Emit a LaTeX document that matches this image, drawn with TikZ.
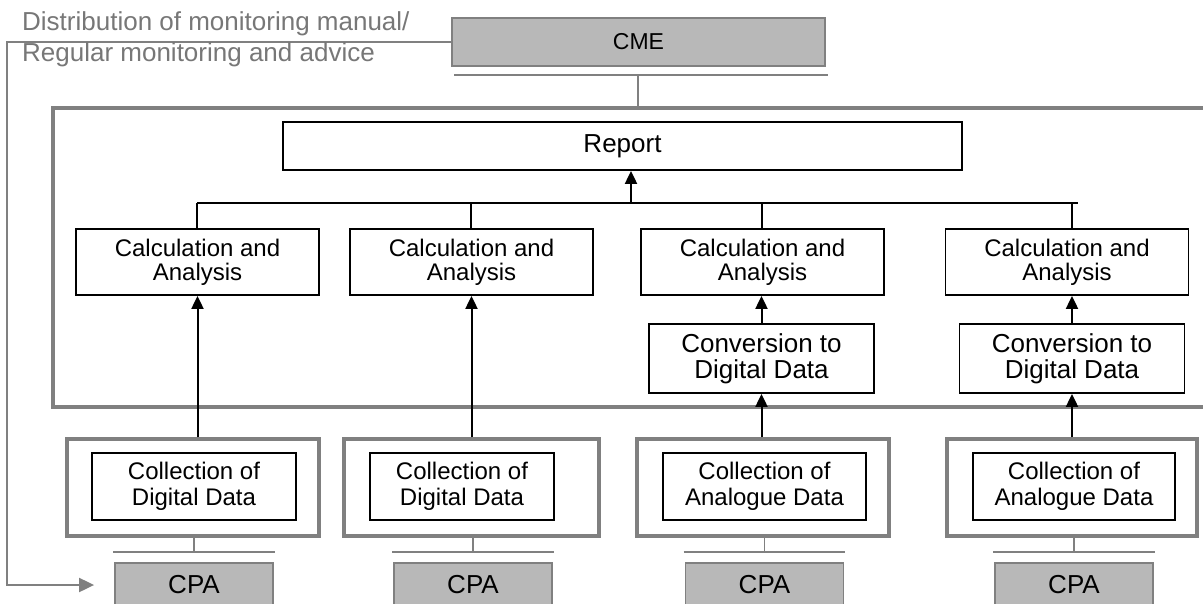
\documentclass[tikz,border=0pt]{standalone}
\usepackage{fontspec}
\setmainfont{Liberation Sans}
\usetikzlibrary{arrows.meta}
\definecolor{linegray}{HTML}{808080}
\definecolor{orgfill}{HTML}{B8B8B8}
\definecolor{labelgray}{HTML}{777777}

\begin{document}
\begin{tikzpicture}[x=1pt, y=-1pt,
  blk/.style={draw=black, line width=1.8pt, fill=white, inner sep=0pt, align=center},
  org/.style={draw=linegray, line width=1.8pt, fill=orgfill, inner sep=0pt},
  frame/.style={draw=linegray, line width=3.5pt, inner sep=0pt},
  bar/.style={draw=linegray, line width=1.4pt},
  up/.style={line width=2pt, -{Triangle[length=13pt, width=12pt]}},
  feed/.style={draw=linegray, line width=2pt, -{Triangle[length=15pt, width=14pt, fill=linegray]}}]
  \useasboundingbox (0,0) rectangle (1203,603);
  \clip (0,0) rectangle (1203,603);

  % CME on top
  \node[org, minimum width=373, minimum height=48, font=\fontsize{23}{23}\selectfont] (cme) at (638.5,42) {CME};
  \draw[bar] (454,75) -- (828,75);
  \draw[bar] (638,75) -- (638,108);

  % big frame, open to the right
  \draw[frame] (1210,108) -- (53,108) -- (53,407) -- (1210,407);

  % Report
  \node[blk, minimum width=679, minimum height=48, font=\fontsize{26}{26}\selectfont] (report) at (622.5,146) {Report};

  % Calculation and Analysis
  \foreach \i/\cx/\bx in {1/197.5/197, 2/471.5/471, 3/762.5/762, 4/1067/1072} {
    \node[blk, minimum width=243, minimum height=66, font=\fontsize{24}{24}\selectfont] (calc\i) at (\cx,262) {Calculation and\\Analysis};
    \coordinate (b\i) at (\bx,203);
    \draw[line width=2pt] (b\i) -- (b\i |- calc\i.north);
  }
  \draw[line width=2pt] (b1) -- (1078,203);
  \coordinate (rb) at (631,203);
  \draw[up] (rb) -- (rb |- report.south);

  % Conversion to Digital Data
  \foreach \i/\cx in {3/761.5, 4/1072} {
    \node[blk, minimum width=225, minimum height=69, font=\fontsize{26}{26}\selectfont] (conv\i) at (\cx,358.5) {Conversion to\\Digital Data};
    \draw[up] (conv\i.north) -- (conv\i.north |- calc\i.south);
  }

  % Collection + CPA
  \foreach \i/\ox/\ow/\ix/\iw/\px/\what in {1/193/252/194/204/194/Digital, 2/471.5/255/462/184/473/Digital, 3/763/252/764.5/203/764.5/Analogue, 4/1072/250/1074/202/1074/Analogue} {
    \node[frame, minimum width=\ow, minimum height=97] (outer\i) at (\ox,487.5) {};
    \node[blk, minimum width=\iw, minimum height=67, font=\fontsize{24}{26}\selectfont] (coll\i) at (\ix,486.5) {Collection of\\\what{} Data};
    \node[org, minimum width=158, minimum height=44, font=\fontsize{26}{26}\selectfont] (cpa\i) at (\px,585) {CPA};
    \draw[bar] ([xshift=-1pt,yshift=10pt]cpa\i.north west) -- ([xshift=1pt,yshift=10pt]cpa\i.north east);
    \draw[bar] (cpa\i.north |- outer\i.south) -- ([yshift=10pt]cpa\i.north);
  }
  \foreach \i in {1,2} { \draw[up] (calc\i.south |- outer\i.north) -- (calc\i.south); }
  \foreach \i in {3,4} { \draw[up] (conv\i.south |- outer\i.north) -- (conv\i.south); }

  % feedback to the CPAs
  \draw[feed] (cme.west) -- (7,42) |- ([xshift=-20pt]cpa1.west);
  \node[anchor=north west, inner sep=0pt, align=left, text=labelgray, font=\fontsize{26}{31}\selectfont] (dist) at (22,11) {Distribution of monitoring manual/\\Regular monitoring and advice};
\end{tikzpicture}
\end{document}
